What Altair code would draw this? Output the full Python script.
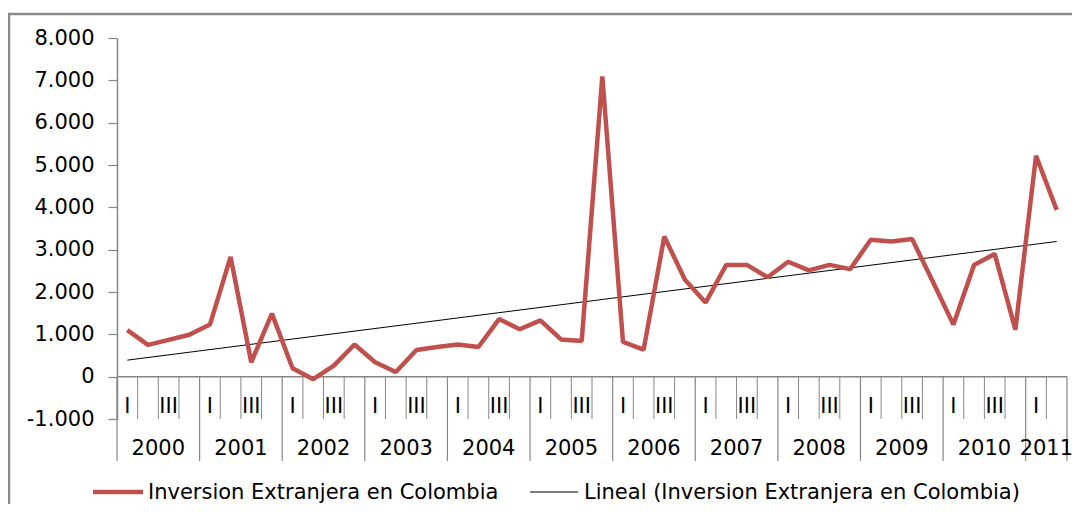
import altair as alt
import pandas as pd

# ---------------- data ----------------
years = ["2000", "2001", "2002", "2003", "2004", "2005",
         "2006", "2007", "2008", "2009", "2010", "2011"]
quarters = ["I", "II", "III", "IV"]
values = [
    1100, 750, 870, 990,        # 2000
    1230, 2830, 340, 1490,      # 2001
    200, -60, 260, 760,         # 2002
    340, 110, 630, 700,         # 2003
    760, 700, 1360, 1120,       # 2004
    1330, 880, 840, 7090,       # 2005
    820, 640, 3310, 2290,       # 2006
    1750, 2640, 2640, 2350,     # 2007
    2715, 2510, 2640, 2540,     # 2008
    3235, 3195, 3250, 2250,     # 2009
    1230, 2640, 2900, 1110,     # 2010
    5220, 3940,                 # 2011
]
y_ticks = [-1000, 0, 1000, 2000, 3000, 4000, 5000, 6000, 7000, 8000]
series_name = "Inversion Extranjera en Colombia"
trend_name = "Lineal (Inversion Extranjera en Colombia)"

n = len(values)
df = pd.DataFrame({
    "idx": list(range(n)),
    "value": values,
    "year": [years[i // 4] for i in range(n)],
    "q": [quarters[i % 4] for i in range(n)],
})

# boundaries between categories
q_bounds = pd.DataFrame({"b": [i - 0.5 for i in range(n + 1) if (i % 4 != 0 and i != n)]})
y_bounds = pd.DataFrame({"b": [i - 0.5 for i in range(n + 1) if (i % 4 == 0 or i == n)]})
year_lab = df.groupby("year", as_index=False)["idx"].mean()
q_lab = df[df["q"].isin(["I", "III"])]

FONT = "DejaVu Sans"
FS = 21
GRAY = "#868686"
RED = "#C0504D"

xs = alt.Scale(domain=[-0.5, n - 0.5], nice=False, zero=False)
ys = alt.Scale(domain=[y_ticks[0], y_ticks[-1]], nice=False, zero=False)

X = alt.X("idx:Q", scale=xs, axis=None)
Y = alt.Y("value:Q", scale=ys, title=None,
          axis=alt.Axis(values=y_ticks, grid=False, domainColor=GRAY, domainWidth=1.5,
                        tickColor=GRAY, tickSize=9, tickWidth=1.2, labelPadding=14,
                        labelFont=FONT, labelFontSize=FS, labelColor="black",
                        labelExpr="(datum.value < 0 ? '-' : '') + replace(format(abs(datum.value), ','), ',', '.')"))

frame = alt.Chart(pd.DataFrame({"a": [0]})).mark_rect(
    fill=None, stroke="#8a8a8a", strokeWidth=2.5).encode(
    x=alt.value(-108), x2=alt.value(1000), y=alt.value(-24), y2=alt.value(600))

zero_line = alt.Chart(pd.DataFrame({"a": [0]})).mark_rule(color=GRAY, strokeWidth=1.5).encode(
    y=alt.datum(0, scale=ys), x=alt.value(0), x2=alt.value(950))

q_ticks = alt.Chart(q_bounds).mark_rule(color=GRAY, strokeWidth=1).encode(
    x=alt.X("b:Q", scale=xs, axis=None), y=alt.datum(0, scale=ys), y2=alt.datum(-1000))

yr_ticks = alt.Chart(y_bounds).mark_rule(color=GRAY, strokeWidth=1.2).encode(
    x=alt.X("b:Q", scale=xs, axis=None), y=alt.datum(0, scale=ys), y2=alt.value(423))

q_text = alt.Chart(q_lab).mark_text(font=FONT, fontSize=FS, color="black",
                                     baseline="middle", align="center").encode(
    x=alt.X("idx:Q", scale=xs, axis=None), y=alt.value(369), text="q:N")

yr_text = alt.Chart(year_lab).mark_text(font=FONT, fontSize=FS, color="black",
                                        baseline="middle", align="center").encode(
    x=alt.X("idx:Q", scale=xs, axis=None), y=alt.value(411), text="year:N")

trend = alt.Chart(df).transform_regression("idx", "value", method="linear").mark_line(
    color="black", strokeWidth=1).encode(x=X, y=Y)

line = alt.Chart(df).mark_line(color=RED, strokeWidth=4.5, strokeJoin="bevel").encode(x=X, y=Y)

leg_df = pd.DataFrame({"a": [0]})
leg_red = alt.Chart(leg_df).mark_rule(color=RED, strokeWidth=4.5).encode(
    x=alt.value(-24), x2=alt.value(26), y=alt.value(454))
leg_red_t = alt.Chart(leg_df).mark_text(font=FONT, fontSize=FS, color="black",
                                         align="left", baseline="middle").encode(
    x=alt.value(31), y=alt.value(455), text=alt.value(series_name))
leg_blk = alt.Chart(leg_df).mark_rule(color="black", strokeWidth=1).encode(
    x=alt.value(413), x2=alt.value(461), y=alt.value(454))
leg_blk_t = alt.Chart(leg_df).mark_text(font=FONT, fontSize=FS, color="black",
                                         align="left", baseline="middle").encode(
    x=alt.value(467), y=alt.value(455), text=alt.value(trend_name))

chart = alt.layer(
    frame, zero_line, q_ticks, yr_ticks, q_text, yr_text, trend, line,
    leg_red, leg_red_t, leg_blk, leg_blk_t,
).properties(
    width=950, height=381,
    autosize=alt.AutoSizeParams(type="none"),
    padding={"left": 109, "top": 30, "right": 5, "bottom": 85},
).configure_view(stroke=None)

chart.save("out.html", embed_options={"renderer": "svg", "actions": False})
